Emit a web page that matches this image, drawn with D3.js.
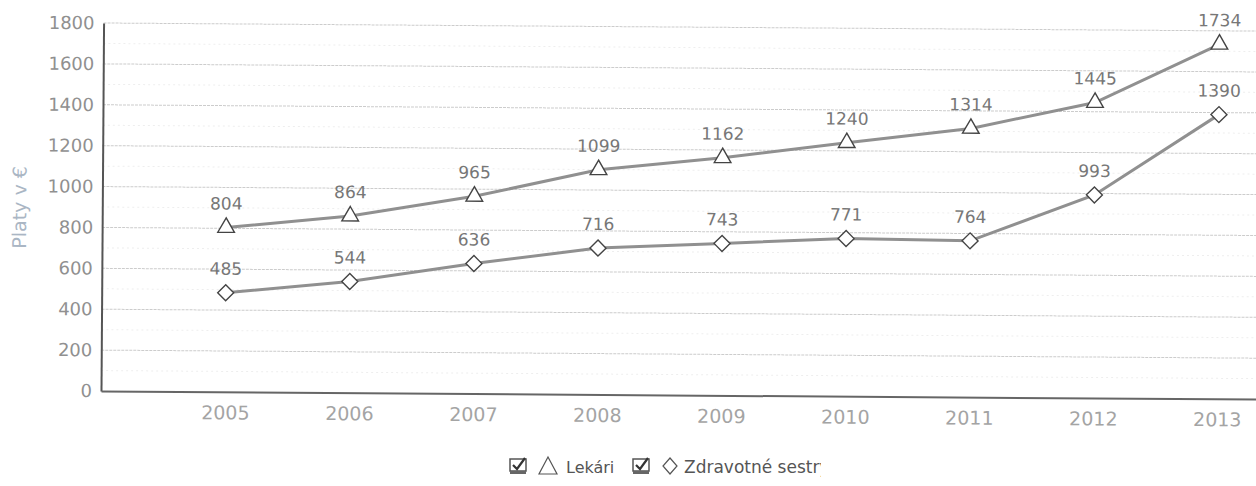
<!DOCTYPE html>
<html>
<head>
<meta charset="utf-8">
<script src="https://cdn.jsdelivr.net/npm/d3@7"></script>
<style>
  body { margin: 0; background: #fff; }
  text { font-family: "DejaVu Sans", Verdana, sans-serif; }
</style>
</head>
<body>
<div id="chart"></div>
<script>
// chart data
var years = ["2005", "2006", "2007", "2008", "2009", "2010", "2011", "2012", "2013"];
var lekari = [804, 864, 965, 1099, 1162, 1240, 1314, 1445, 1734];
var sestry = [485, 544, 636, 716, 743, 771, 764, 993, 1390];
var yTicks = [0, 200, 400, 600, 800, 1000, 1200, 1400, 1600, 1800];
var seriesNames = ["Lekári", "Zdravotné sestry"];

var svgWidth = 1256;
var svgHeight = 486;

var origin = { x: 101, y: 391 };

var svg = d3.select("#chart")
  .append("svg")
  .attr("width", svgWidth)
  .attr("height", svgHeight);

// the scanned chart is tilted a little
var chartGroup = svg.append("g")
  .attr("transform", `rotate(0.4, ${origin.x}, ${origin.y})`);

var xScale = d3.scalePoint()
  .domain(years)
  .range([origin.x, origin.x + 1240])
  .padding(1);

var yScale = d3.scaleLinear()
  .domain([0, 1800])
  .range([origin.y, 23]);

// minor gridlines every 100
chartGroup.append("g")
  .selectAll("line")
  .data(d3.range(100, 1800, 200))
  .enter()
  .append("line")
  .attr("x1", origin.x)
  .attr("x2", origin.x + 1240)
  .attr("y1", d => yScale(d))
  .attr("y2", d => yScale(d))
  .attr("stroke", "#eeeeee")
  .attr("stroke-width", 1)
  .attr("stroke-dasharray", "2,3");

// major gridlines
chartGroup.append("g")
  .selectAll("line")
  .data(yTicks.slice(1))
  .enter()
  .append("line")
  .attr("x1", origin.x)
  .attr("x2", origin.x + 1240)
  .attr("y1", d => yScale(d))
  .attr("y2", d => yScale(d))
  .attr("stroke", "#cccccc")
  .attr("stroke-width", 1)
  .attr("stroke-dasharray", "3,1");

// y axis
var leftAxis = d3.axisLeft(yScale)
  .tickValues(yTicks)
  .tickFormat(d3.format("d"))
  .tickSize(0)
  .tickPadding(9);

var yAxis = chartGroup.append("g")
  .attr("transform", `translate(${origin.x}, 0)`)
  .call(leftAxis);
yAxis.select(".domain").attr("stroke", "#555").attr("stroke-width", 2);
yAxis.selectAll("text")
  .attr("font-size", "18px")
  .attr("fill", "#909090")
  .attr("font-family", "DejaVu Sans, sans-serif");

// x axis
var bottomAxis = d3.axisBottom(xScale)
  .tickSize(0)
  .tickPadding(14);

var xAxis = chartGroup.append("g")
  .attr("transform", `translate(0, ${origin.y})`)
  .call(bottomAxis);
xAxis.select(".domain").attr("stroke", "#666").attr("stroke-width", 2);
xAxis.selectAll("text")
  .attr("font-size", "19px")
  .attr("fill", "#a4a4a4")
  .attr("font-family", "DejaVu Sans, sans-serif");

// y axis title
chartGroup.append("text")
  .attr("transform", "rotate(-90)")
  .attr("x", -208)
  .attr("y", 25)
  .attr("text-anchor", "middle")
  .attr("font-size", "19px")
  .attr("fill", "#aab6c4")
  .text("Platy v €");

var line = d3.line()
  .x((d, i) => xScale(years[i]))
  .y(d => yScale(d));

var trianglePath = d3.symbol().type(d3.symbolTriangle).size(120);
var diamondPath = "M0,-8L8,0L0,8L-8,0Z";

function drawSeries(values, markerPath) {
  var g = chartGroup.append("g");

  g.append("path")
    .datum(values)
    .attr("d", line)
    .attr("fill", "none")
    .attr("stroke", "#909090")
    .attr("stroke-width", 3);

  g.selectAll(".marker")
    .data(values)
    .enter()
    .append("path")
    .attr("class", "marker")
    .attr("transform", (d, i) => `translate(${xScale(years[i])}, ${yScale(d)})`)
    .attr("d", markerPath)
    .attr("fill", "#fff")
    .attr("stroke", "#444")
    .attr("stroke-width", 1.4);

  g.selectAll(".value")
    .data(values)
    .enter()
    .append("text")
    .attr("class", "value")
    .attr("x", (d, i) => xScale(years[i]))
    .attr("y", d => yScale(d) - 18)
    .attr("text-anchor", "middle")
    .attr("font-size", "17px")
    .attr("fill", "#777")
    .text(d => d);
}

drawSeries(lekari, trianglePath);
drawSeries(sestry, diamondPath);

// legend
var legend = svg.append("g")
  .attr("transform", "translate(0, 467)");

function checkbox(x) {
  var c = legend.append("g").attr("transform", `translate(${x}, 0)`);
  c.append("rect")
    .attr("x", 0).attr("y", -8)
    .attr("width", 16).attr("height", 12)
    .attr("fill", "#fff")
    .attr("stroke", "#555")
    .attr("stroke-width", 1.5);
  c.append("rect")
    .attr("x", 0).attr("y", 4)
    .attr("width", 16).attr("height", 3)
    .attr("fill", "#666");
  c.append("path")
    .attr("d", "M3,-2L7,2L15,-9")
    .attr("fill", "none")
    .attr("stroke", "#333")
    .attr("stroke-width", 2.2);
}

checkbox(510);
legend.append("path")
  .attr("transform", "translate(548, -1)")
  .attr("d", "M0,-9L9,8L-9,8Z")
  .attr("fill", "none")
  .attr("stroke", "#555")
  .attr("stroke-width", 1.2);
legend.append("text")
  .attr("x", 566)
  .attr("y", 6)
  .attr("font-size", "16px")
  .attr("fill", "#555")
  .text(seriesNames[0]);

checkbox(633);
legend.append("path")
  .attr("transform", "translate(670, -1)")
  .attr("d", "M0,-8L7,0L0,8L-7,0Z")
  .attr("fill", "none")
  .attr("stroke", "#555")
  .attr("stroke-width", 1.2);

// the last label is cut off in the original
legend.append("clipPath")
  .attr("id", "legendClip")
  .append("rect")
  .attr("x", 678).attr("y", -20)
  .attr("width", 143).attr("height", 40);

legend.append("text")
  .attr("x", 684)
  .attr("y", 6)
  .attr("font-size", "17px")
  .attr("fill", "#555")
  .attr("clip-path", "url(#legendClip)")
  .text(seriesNames[1]);
</script>
</body>
</html>
